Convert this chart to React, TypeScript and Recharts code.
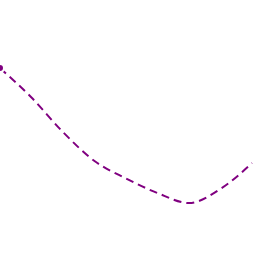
import React from 'react';
import { LineChart, Line, XAxis, YAxis } from 'recharts';

const labels = ['1', '2', '3', '4', '5', '6', '7', '8', '9'];
const values = [73.4, 61.9, 48.4, 37.1, 30.3, 24.6, 20.7, 26.2, 36.3];

const data = labels.map((name, i) => ({ name, value: values[i] }));

const App: React.FC = () => {
  return (
    <div style={{ position: 'fixed', left: 0, top: 0, width: 256, height: 256, background: '#fff' }}>
      <LineChart width={256} height={256} data={data} margin={{ top: 0, right: 4, left: 0, bottom: 0 }}>
        <XAxis dataKey="name" hide />
        <YAxis hide domain={[0, 100]} />
        <Line
          type="monotone"
          dataKey="value"
          stroke="#800080"
          strokeWidth={2}
          strokeDasharray="8 5"
          dot={false}
          isAnimationActive={false}
        />
      </LineChart>
    </div>
  );
};

export default App;
